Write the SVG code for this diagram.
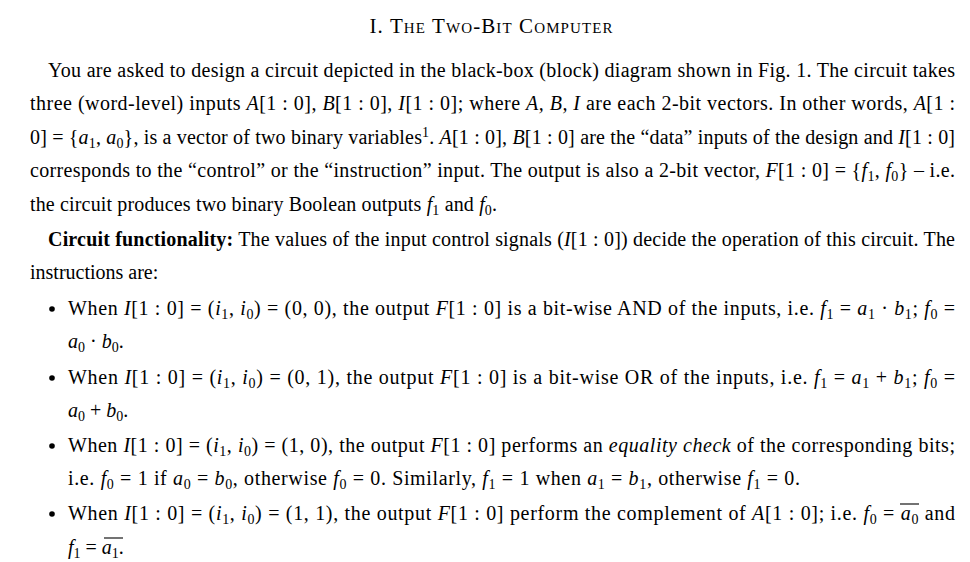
<svg xmlns="http://www.w3.org/2000/svg" width="970" height="562" viewBox="0 0 970 562">
<style>
.t{font-family:"Liberation Serif",serif;font-size:20px;fill:#000}
.i{font-style:italic}
.b{font-weight:bold}
.s{font-size:14px}
</style>
<rect width="970" height="562" fill="#fff"/>
<text class="t" x="491" y="33" text-anchor="middle" font-variant="small-caps" style="font-size:21px" textLength="243" lengthAdjust="spacing">I. The Two-Bit Computer</text>
<text class="t" x="48" y="77" textLength="907" lengthAdjust="spacing">You are asked to design a circuit depicted in the black-box (block) diagram shown in Fig. 1. The circuit takes</text>
<text class="t" x="30" y="110" textLength="925" lengthAdjust="spacing">three (word-level) inputs <tspan class="i">A</tspan>[1 : 0], <tspan class="i">B</tspan>[1 : 0], <tspan class="i">I</tspan>[1 : 0]; where <tspan class="i">A, B, I</tspan> are each 2-bit vectors. In other words, <tspan class="i">A</tspan>[1 :</text>
<text class="t" x="30" y="144" textLength="925" lengthAdjust="spacing">0] = {<tspan class="i">a</tspan><tspan class="s" dy="4">1</tspan><tspan dy="-4">, </tspan><tspan class="i">a</tspan><tspan class="s" dy="4">0</tspan><tspan dy="-4">}, is a vector of two binary variables</tspan><tspan class="s" dy="-7">1</tspan><tspan dy="7">. </tspan><tspan class="i">A</tspan>[1 : 0], <tspan class="i">B</tspan>[1 : 0] are the “data” inputs of the design and <tspan class="i">I</tspan>[1 : 0]</text>
<text class="t" x="30" y="177" textLength="925" lengthAdjust="spacing">corresponds to the “control” or the “instruction” input. The output is also a 2-bit vector, <tspan class="i">F</tspan>[1 : 0] = {<tspan class="i">f</tspan><tspan class="s" dy="4">1</tspan><tspan dy="-4">, </tspan><tspan class="i">f</tspan><tspan class="s" dy="4">0</tspan><tspan dy="-4">} – i.e.</tspan></text>
<text class="t" x="30" y="211" textLength="467" lengthAdjust="spacing">the circuit produces two binary Boolean outputs <tspan class="i">f</tspan><tspan class="s" dy="4">1</tspan><tspan dy="-4"> and </tspan><tspan class="i">f</tspan><tspan class="s" dy="4">0</tspan><tspan dy="-4">.</tspan></text>
<text class="t" x="48" y="246" textLength="907" lengthAdjust="spacing"><tspan class="b">Circuit functionality:</tspan> The values of the input control signals (<tspan class="i">I</tspan>[1 : 0]) decide the operation of this circuit. The</text>
<text class="t" x="30" y="279">instructions are:</text>
<g id="bullets">
<circle cx="52" cy="309" r="2.8"/>
<circle cx="52" cy="378" r="2.8"/>
<circle cx="52" cy="446" r="2.8"/>
<circle cx="52" cy="514" r="2.8"/>
</g>
<text class="t" x="68" y="315" textLength="887" lengthAdjust="spacing">When <tspan class="i">I</tspan>[1 : 0] = (<tspan class="i">i</tspan><tspan class="s" dy="4">1</tspan><tspan dy="-4">, </tspan><tspan class="i">i</tspan><tspan class="s" dy="4">0</tspan><tspan dy="-4">) = (0, 0), the output </tspan><tspan class="i">F</tspan>[1 : 0] is a bit-wise AND of the inputs, i.e. <tspan class="i">f</tspan><tspan class="s" dy="4">1</tspan><tspan dy="-4"> = </tspan><tspan class="i">a</tspan><tspan class="s" dy="4">1</tspan><tspan dy="-4"> · </tspan><tspan class="i">b</tspan><tspan class="s" dy="4">1</tspan><tspan dy="-4">;  </tspan><tspan class="i">f</tspan><tspan class="s" dy="4">0</tspan><tspan dy="-4"> =</tspan></text>
<text class="t" x="68" y="348"><tspan class="i">a</tspan><tspan class="s" dy="4">0</tspan><tspan dy="-4"> · </tspan><tspan class="i">b</tspan><tspan class="s" dy="4">0</tspan><tspan dy="-4">.</tspan></text>
<text class="t" x="68" y="384" textLength="887" lengthAdjust="spacing">When <tspan class="i">I</tspan>[1 : 0] = (<tspan class="i">i</tspan><tspan class="s" dy="4">1</tspan><tspan dy="-4">, </tspan><tspan class="i">i</tspan><tspan class="s" dy="4">0</tspan><tspan dy="-4">) = (0, 1), the output </tspan><tspan class="i">F</tspan>[1 : 0] is a bit-wise OR of the inputs, i.e. <tspan class="i">f</tspan><tspan class="s" dy="4">1</tspan><tspan dy="-4"> = </tspan><tspan class="i">a</tspan><tspan class="s" dy="4">1</tspan><tspan dy="-4"> + </tspan><tspan class="i">b</tspan><tspan class="s" dy="4">1</tspan><tspan dy="-4">;  </tspan><tspan class="i">f</tspan><tspan class="s" dy="4">0</tspan><tspan dy="-4"> =</tspan></text>
<text class="t" x="68" y="417"><tspan class="i">a</tspan><tspan class="s" dy="4">0</tspan><tspan dy="-4"> + </tspan><tspan class="i">b</tspan><tspan class="s" dy="4">0</tspan><tspan dy="-4">.</tspan></text>
<text class="t" x="68" y="452" textLength="887" lengthAdjust="spacing">When <tspan class="i">I</tspan>[1 : 0] = (<tspan class="i">i</tspan><tspan class="s" dy="4">1</tspan><tspan dy="-4">, </tspan><tspan class="i">i</tspan><tspan class="s" dy="4">0</tspan><tspan dy="-4">) = (1, 0), the output </tspan><tspan class="i">F</tspan>[1 : 0] performs an <tspan class="i">equality check</tspan> of the corresponding bits;</text>
<text class="t" x="68" y="485" textLength="732" lengthAdjust="spacing">i.e. <tspan class="i">f</tspan><tspan class="s" dy="4">0</tspan><tspan dy="-4"> = 1 if </tspan><tspan class="i">a</tspan><tspan class="s" dy="4">0</tspan><tspan dy="-4"> = </tspan><tspan class="i">b</tspan><tspan class="s" dy="4">0</tspan><tspan dy="-4">, otherwise </tspan><tspan class="i">f</tspan><tspan class="s" dy="4">0</tspan><tspan dy="-4"> = 0. Similarly, </tspan><tspan class="i">f</tspan><tspan class="s" dy="4">1</tspan><tspan dy="-4"> = 1 when </tspan><tspan class="i">a</tspan><tspan class="s" dy="4">1</tspan><tspan dy="-4"> = </tspan><tspan class="i">b</tspan><tspan class="s" dy="4">1</tspan><tspan dy="-4">, otherwise </tspan><tspan class="i">f</tspan><tspan class="s" dy="4">1</tspan><tspan dy="-4"> = 0.</tspan></text>
<text class="t" x="68" y="520" textLength="887" lengthAdjust="spacing">When <tspan class="i">I</tspan>[1 : 0] = (<tspan class="i">i</tspan><tspan class="s" dy="4">1</tspan><tspan dy="-4">, </tspan><tspan class="i">i</tspan><tspan class="s" dy="4">0</tspan><tspan dy="-4">) = (1, 1), the output </tspan><tspan class="i">F</tspan>[1 : 0] perform the complement of <tspan class="i">A</tspan>[1 : 0]; i.e. <tspan class="i">f</tspan><tspan class="s" dy="4">0</tspan><tspan dy="-4"> = </tspan><tspan class="i">a</tspan><tspan class="s" dy="4">0</tspan><tspan dy="-4"> and</tspan></text>
<text class="t" x="68" y="554"><tspan class="i">f</tspan><tspan class="s" dy="4">1</tspan><tspan dy="-4"> = </tspan><tspan class="i">a</tspan><tspan class="s" dy="4">1</tspan><tspan dy="-4">.</tspan></text>
<g id="overlines" stroke="#000" stroke-width="1.1">
<line x1="900" y1="504" x2="919" y2="504"/>
<line x1="104" y1="538" x2="123" y2="538"/>
</g>
</svg>
